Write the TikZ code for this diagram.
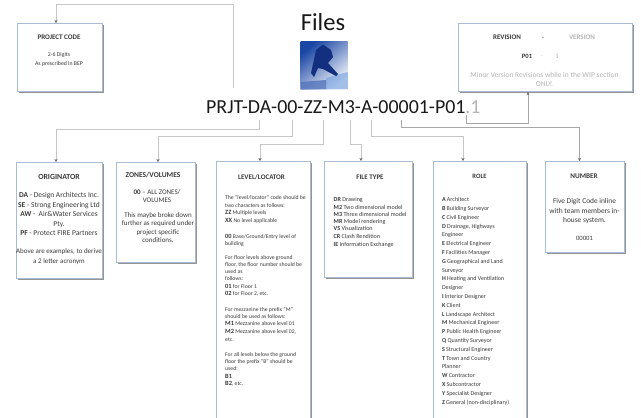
\documentclass[tikz,border=0pt]{standalone}
\usepackage{fontspec}
\setmainfont{Carlito}
\usetikzlibrary{shadows,arrows.meta}
\definecolor{boxedge}{HTML}{A9BCD3}
\definecolor{wire}{HTML}{C6C6C6}
\definecolor{wiredark}{HTML}{A8A8A8}
\definecolor{ink}{HTML}{3A3A3A}
\definecolor{fade}{HTML}{B5B5B5}
\definecolor{logoA}{HTML}{1A46A4}
\definecolor{logoB}{HTML}{F2F5FA}
\definecolor{logoC}{HTML}{6D9BDD}
\definecolor{logoR}{HTML}{12307F}
\newcommand{\fs}[1]{\fontsize{#1}{#1}\selectfont}
\tikzset{
  x=1pt,y=-1pt,
  card/.style={draw=boxedge,line width=1.1pt,fill=white,
    drop shadow={shadow xshift=1.3pt,shadow yshift=-1.3pt,fill=black!60,opacity=0.7}},
  wireline/.style={draw=wire,line width=1pt},
  wirelink/.style={draw=wiredark,line width=0.7pt},
  arrowline/.style={wireline,-{Stealth[length=3pt,width=3pt,color=black!60]}},
  darkarrow/.style={wirelink,-{Stealth[length=3pt,width=3pt,color=black!60]}},
  title/.style={text=ink,inner sep=0pt,align=center},
  bodyc/.style={text=ink,inner sep=0pt,align=center,anchor=north},
  small/.style={font=\fs{5.7},text=ink,inner sep=0pt,align=left,anchor=north west},
}
\newcommand{\card}[5]{\node[card,anchor=north west,minimum width=#4-#2,minimum height=#5-#3,inner sep=0pt] (#1) at (#2,#3) {};}
\newcommand{\cd}[1]{{\fs{6.4}\textbf{#1}}}
\begin{document}
\begin{tikzpicture}
\useasboundingbox (0,0) rectangle (641,418);

% heading and logo
\node[font=\fs{24.5},text=black!90,inner sep=0pt] (files) at (323,22) {Files};
\node[inner sep=0pt,minimum width=47,minimum height=48,anchor=north west,
  shading=axis,left color=logoA,right color=logoB,shading angle=40] (logo) at (300.5,41) {};
\shade[bottom color=logoC,top color=logoC,opacity=0.6] (326,89) -- (347.5,89) -- (347.5,72) -- (326,78) -- cycle;
\fill[logoA!75!white,opacity=0.8] (300.5,89) -- (326,89) -- (326,80) -- (300.5,82) -- cycle;
\fill[logoR] (316,50) -- (323,44.5) -- (331,50) -- (333,57) -- (328,63) -- (338,74) -- (336,76) -- (323,69) -- (318,68) -- (314,77) -- (311,73) -- cycle;

% the file name
\node[font=\fs{19.9},text=black!90,inner sep=0pt,anchor=base west] (code) at (206,113) {PRJT-DA-00-ZZ-M3-A-00001-P01\textcolor{fade}{.1}};
\coordinate (cPrj) at (233,88);
\coordinate (cOrg) at (259.5,120);
\coordinate (cZon) at (292,120);
\coordinate (cLvl) at (323,120);
\coordinate (cTyp) at (350,120);
\coordinate (cRol) at (371,120);
\coordinate (cNum) at (401,120);
\coordinate (cRev) at (466.5,115);

% boxes
\card{project}{17}{23}{102}{91}
\card{revision}{458}{23}{632}{91}
\card{originator}{16}{162}{102}{278}
\card{zones}{116}{162}{195}{262}
\card{level}{216}{161}{310}{430}
\card{filetype}{324}{161}{412}{277}
\card{role}{433}{161}{526}{430}
\card{number}{545}{161}{624}{252}

% connectors
\draw[arrowline] (cPrj) -- (233,4) -| (project.north -| 56,0);
\draw[arrowline] (cOrg) -- (259.5,129) -| (originator.north -| 56,0);
\draw[arrowline] (cZon) -- (292,136) -| (zones.north -| 158,0);
\draw[arrowline] (cLvl) -- (323,144) -| (level.north -| 260,0);
\draw[arrowline] (cTyp) -- (350,144) -| (filetype.north -| 361,0);
\draw[arrowline] (cRol) -- (371,136) -| (role.north -| 463,0);
\draw[darkarrow] (cNum) -- (401,127) -| (number.north -| 579.5,0);
\draw[darkarrow] (cRev) -- (466.5,123) -| (revision.south -| 528,0);

% project code
\node[title,font=\fs{7}\bfseries] (pt) at (59,37.5) {PROJECT CODE};
\node[bodyc,font=\fs{5.8}] (pb) at (59,52.8) {2-6 Digits\\[3.2pt]As prescribed in BEP};

% revision
\node[title,font=\fs{7}\bfseries] (rt1) at (507,37.5) {REVISION};
\node[title,font=\fs{7}\bfseries] (rt2) at (543,38) {.};
\node[title,font=\fs{7}\bfseries,text=fade] (rt3) at (582,37.5) {VERSION};
\node[title,font=\fs{6.6}\bfseries] (rv1) at (527,56.5) {P01};
\node[title,font=\fs{6.6},text=fade] (rv2) at (542,56.5) {.};
\node[title,font=\fs{6.6},text=fade] (rv3) at (557,56.5) {1};
\node[bodyc,font=\fs{7.5},text=fade] (rnote) at (544.5,72.5) {Minor Version Revisions while in the WIP section\\[1.5pt]ONLY.};

% originator
\node[title,font=\fs{7.8}\bfseries] (ot) at (59,177) {ORIGINATOR};
\node[bodyc,font=\fs{7.5}] (ob) at (59,192.5) {\textbf{DA} - Design Architects Inc.\\[1.9pt]\textbf{SE} - Strong Engineering Ltd\\[1.9pt]\textbf{AW} -\ \ Air\&Water Services\\[1.9pt]Pty.\\[1.9pt]\textbf{PF} - Protect FIRE Partners};
\node[bodyc,font=\fs{7}] (on) at (59,248.6) {Above are examples, to derive\\[3pt]a 2 letter acronym};

% zones
\node[title,font=\fs{7.5}\bfseries] (zt) at (153,175.5) {ZONES/VOLUMES};
\node[bodyc,font=\fs{7}] (zb) at (157,189) {\textbf{00} – ALL ZONES/\\[1.3pt]VOLUMES};
\node[bodyc,font=\fs{7}] (zn) at (158,212.8) {This maybe broke down\\[1.1pt]further as required under\\[1.1pt]project specific\\[1.1pt]conditions.};

% level
\node[title,font=\fs{7}\bfseries] (lt) at (261.5,177) {LEVEL/LOCATOR};
\node[small] (l1) at (225,195.5) {The "level/locator" code should be\\[1.7pt]two characters as follows:};
\node[small] (l2) at (225,210.5) {\cd{ZZ} Multiple levels\\[1.7pt]\cd{XX} No level applicable};
\node[small] (l3) at (225,234) {\cd{00} Base/Ground/Entry level of\\[1.7pt]building};
\node[small] (l4) at (225,255.5) {For floor levels above ground\\[1.3pt]floor, the floor number should be\\[1.3pt]used as\\[1.3pt]follows:};
\node[small] (l5) at (225,284) {\cd{01} for Floor 1\\[1.7pt]\cd{02} for Floor 2, etc.};
\node[small] (l6) at (225,307.5) {For mezzanine the prefix "M"\\[1.3pt]should be used as follows:};
\node[small] (l7) at (225,321) {\cd{M1} Mezzanine above level 01\\[2.3pt]\cd{M2} Mezzanine above level 02,\\[2.3pt]etc.};
\node[small] (l8) at (225,352.5) {For all levels below the ground\\[1.3pt]floor the prefix "B" should be\\[1.3pt]used:};
\node[small] (l9) at (225,374) {\cd{B1}\\[1.7pt]\cd{B2}, etc.};

% file type
\node[title,font=\fs{7}\bfseries] (ft) at (370,177) {FILE TYPE};
\node[small,font=\fs{6.1}] (fb) at (333.5,197.3) {\textbf{DR} Drawing\\[1.2pt]\textbf{M2} Two dimensional model\\[1.2pt]\textbf{M3} Three dimensional model\\[1.2pt]\textbf{MR} Model rendering\\[1.2pt]\textbf{VS} Visualization\\[1.2pt]\textbf{CR} Clash Rendition\\[2.2pt]\textbf{IE} Information Exchange};

% role
\node[title,font=\fs{6.6}\bfseries] (rot) at (479.5,176.5) {ROLE};
\node[small,font=\fs{6}] (rob) at (441.8,197.4) {\textbf{A} Architect\\[2.8pt]\textbf{B} Building Surveyor\\[2.8pt]\textbf{C} Civil Engineer\\[2.8pt]\textbf{D} Drainage, Highways\\[2.8pt]Engineer\\[2.8pt]\textbf{E} Electrical Engineer\\[2.8pt]\textbf{F} Facilities Manager\\[2.8pt]\textbf{G} Geographical and Land\\[2.8pt]Surveyor\\[2.8pt]\textbf{H} Heating and Ventilation\\[2.8pt]Designer\\[2.8pt]\textbf{I} Interior Designer\\[2.8pt]\textbf{K} Client\\[2.8pt]\textbf{L} Landscape Architect\\[2.8pt]\textbf{M} Mechanical Engineer\\[2.8pt]\textbf{P} Public Health Engineer\\[2.8pt]\textbf{Q} Quantity Surveyor\\[2.8pt]\textbf{S} Structural Engineer\\[2.8pt]\textbf{T} Town and Country\\[2.8pt]Planner\\[2.8pt]\textbf{W} Contractor\\[2.8pt]\textbf{X} Subcontractor\\[2.8pt]\textbf{Y} Specialist Designer\\[2.8pt]\textbf{Z} General (non-disciplinary)};

% number
\node[title,font=\fs{7.2}\bfseries] (nt) at (584,176.5) {NUMBER};
\node[bodyc,font=\fs{7.4}] (nb) at (584.5,198.5) {Five Digit Code inline\\[1.9pt]with team members in-\\[1.9pt]house system.};
\node[bodyc,font=\fs{6.6}] (nn) at (584.5,236) {00001};
\end{tikzpicture}
\end{document}
